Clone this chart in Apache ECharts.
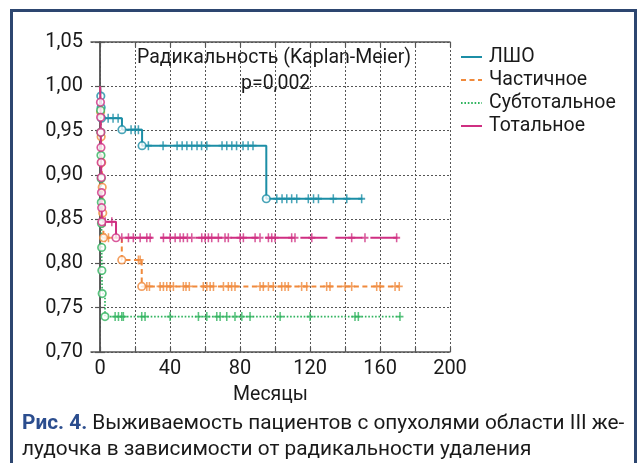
<!DOCTYPE html>
<html>
<head>
<meta charset="utf-8">
<script src="https://cdn.jsdelivr.net/npm/echarts@6/dist/echarts.min.js"></script>
<style>
html,body{margin:0;padding:0;background:#fff;}
#wrap{position:relative;width:641px;height:463px;overflow:hidden;}
#chart{position:absolute;left:0;top:0;width:641px;height:463px;}
#frame{position:absolute;left:10px;top:9px;width:627px;height:480px;box-sizing:border-box;border:3px solid #2d4670;pointer-events:none;}
</style>
</head>
<body>
<div id="wrap"><div id="chart"></div><div id="frame"></div></div>
<script>
// ---- Data (months, survival) ----
const seriesNames = ['ЛШО', 'Частичное', 'Субтотальное', 'Тотальное'];

const lshoTimes   = [0, 0.4, 0.6, 0.8, 12.5, 24, 95, 150];
const lshoSurv    = [1, 0.989, 0.976, 0.964, 0.951, 0.933, 0.873, 0.873];
const lshoCensor  = [4.6, 7.4, 10.3, 17.7, 20, 21.9, 27.6, 36, 44, 46.9, 49.6, 52.4, 55.4, 58, 61, 69.7, 72.4, 75.3, 78, 81.7, 84.6, 87.4, 101, 104, 106.7, 109.5, 112.4, 119, 122, 124.8, 133.3, 141, 149.5];

const partTimes   = [0, 0.3, 0.6, 0.9, 1.2, 1.5, 2, 12.4, 23.8, 171];
const partSurv    = [1, 0.971, 0.943, 0.914, 0.886, 0.857, 0.829, 0.804, 0.774, 0.774];
const partCensor  = [2.9, 4.8, 21.9, 22.9, 26.7, 28.2, 34.3, 36.2, 38.1, 40, 41.9, 47.6, 49.1, 51, 59, 61, 62.9, 64.8, 70.5, 73.3, 75.2, 77.1, 91.4, 93.3, 96.2, 99, 103.8, 105.7, 107.6, 115.2, 118.1, 129.5, 131.4, 140, 143.8, 158.1, 160, 168.6, 171];

const subTimes    = [0, 0.3, 0.4, 0.5, 0.6, 0.7, 0.8, 0.9, 1.0, 1.2, 2.8, 171.5];
const subSurv     = [1, 0.973, 0.948, 0.922, 0.896, 0.869, 0.845, 0.818, 0.792, 0.766, 0.740, 0.740];
const subCensor   = [8.6, 10.5, 12.4, 13.3, 23.8, 25.7, 40, 56.2, 61, 66.7, 68.6, 72.4, 77.1, 81, 85.7, 102.9, 120, 145.7, 147.6, 171.4];

const totTimes    = [0, 0.2, 0.3, 0.4, 0.5, 0.6, 0.7, 0.8, 0.9, 1.0, 9.1, 171];
const totSurv     = [1, 0.982, 0.965, 0.948, 0.931, 0.914, 0.897, 0.880, 0.863, 0.847, 0.829, 0.829];
const totCensor   = [2.9, 6.7, 12.4, 16.2, 19, 22.9, 26.7, 28.6, 36.2, 40, 42.9, 45.7, 47.6, 49.9, 52.4, 58.1, 60, 61.9, 63.8, 67.6, 71.4, 73.3, 80, 81.9, 88.6, 91.4, 96.2, 98.1, 100, 109.5, 111.4, 121, 143.8, 151.4, 169.5];

const xGridValues  = [0, 20, 40, 60, 80, 100, 120, 140, 160, 180, 200];
const xTickLabels  = [0, 40, 80, 120, 160, 200];
const yTickValues  = [0.70, 0.75, 0.80, 0.85, 0.90, 0.95, 1.00, 1.05];

const colors = ['#1c8ea6', '#f08a3c', '#2fb35e', '#cf2f82'];
const lineTypes = ['solid', [5, 3.5], [1.6, 1.8], [27, 8]];

// ---- helpers (derive mark positions from the data) ----
function stepData(t, s) { return t.map((v, i) => [v, s[i]]); }
function survAt(t, s, x) { let v = s[0]; for (let i = 0; i < t.length; i++) { if (t[i] <= x) v = s[i]; } return v; }
function censorData(t, s, c) { return c.map(x => [x, survAt(t, s, x)]); }
function eventData(t, s) { const out = []; for (let i = 1; i < t.length; i++) if (s[i] < s[i - 1]) out.push([t[i], s[i]]); return out; }

const groups = [
  [lshoTimes, lshoSurv, lshoCensor],
  [partTimes, partSurv, partCensor],
  [subTimes, subSurv, subCensor],
  [totTimes, totSurv, totCensor]
];

const plusPath = 'path://M-0.22,-1H0.22V-0.2H1V0.2H0.22V1H-0.22V0.2H-1V-0.2H-0.22Z';
const FONT = 'Roboto, "Noto Sans", sans-serif';

const series = [];
groups.forEach((g, k) => {
  series.push({
    name: seriesNames[k], type: 'line', step: 'end', symbol: 'none',
    data: stepData(g[0], g[1]), z: 2 + k,
    lineStyle: { color: colors[k], width: k === 2 ? 1.7 : 2, type: lineTypes[k] },
    itemStyle: { color: colors[k] }, animation: false
  });
  series.push({
    name: seriesNames[k] + '_c', type: 'scatter', symbol: plusPath, symbolSize: [7, 9],
    data: censorData(g[0], g[1], g[2]), z: 2 + k,
    itemStyle: { color: colors[k] }, animation: false
  });
  series.push({
    name: seriesNames[k] + '_e', type: 'scatter', symbol: 'circle', symbolSize: 7.5,
    data: eventData(g[0], g[1]), z: 3 + k,
    itemStyle: { color: '#fff', borderColor: colors[k], borderWidth: 1.7 }, animation: false
  });
});

const axisLineStyle = { color: '#555', width: 1.5 };
const gridLineStyle = { color: '#555', width: 1, type: [2, 2] };

const option = {
  backgroundColor: '#fff',
  animation: false,
  textStyle: { fontFamily: FONT },
  grid: { left: 91, right: 191, top: 42, bottom: 111 },
  title: [
    { text: 'Радикальность (Kaplan-Meier)', left: 137, top: 48, padding: 0,
      textStyle: { fontSize: 19.5, fontWeight: 'normal', color: '#1a1a1a', fontFamily: FONT } },
    { text: 'p=0,002', left: 241, top: 74, padding: 0,
      textStyle: { fontSize: 19.5, fontWeight: 'normal', color: '#1a1a1a', fontFamily: FONT } },
    { text: '{b|Рис. 4.} Выживаемость пациентов с опухолями области III же-\nлудочка в зависимости от радикальности удаления',
      left: 22, top: 411, padding: 0,
      textStyle: { fontSize: 20.8, fontWeight: 'normal', color: '#1a1a1a', fontFamily: FONT, lineHeight: 26,
        rich: { b: { fontSize: 20.8, fontWeight: 'bold', color: '#2b4d8e', fontFamily: FONT, lineHeight: 26 } } } }
  ],
  legend: {
    data: seriesNames, orient: 'vertical', left: 460, top: 47, padding: 0,
    itemWidth: 21, itemHeight: 12, itemGap: 3,
    itemStyle: { opacity: 0 },
    textStyle: { fontSize: 19.5, color: '#1a1a1a', fontFamily: FONT, padding: [0, 0, 0, 2] },
    selectedMode: false
  },
  xAxis: [
    { type: 'value', min: -5.2, max: 200, position: 'bottom',
      name: 'Месяцы', nameLocation: 'middle', nameGap: 33,
      nameTextStyle: { fontSize: 19.5, color: '#1a1a1a', fontFamily: FONT },
      axisLine: { show: true, lineStyle: axisLineStyle },
      axisTick: { show: true, inside: true, length: 5, customValues: xGridValues, lineStyle: { color: '#555', width: 1.2 } },
      axisLabel: { customValues: xTickLabels, fontSize: 20, color: '#1a1a1a', margin: 7, fontFamily: FONT },
      splitLine: { show: true, lineStyle: gridLineStyle } },
    { type: 'value', min: -5.2, max: 200, position: 'top',
      axisLine: { show: true, lineStyle: axisLineStyle },
      axisTick: { show: true, inside: true, length: 5, customValues: xGridValues, lineStyle: { color: '#555', width: 1.2 } },
      axisLabel: { show: false }, splitLine: { show: false } }
  ],
  yAxis: [
    { type: 'value', min: 0.70, max: 1.05, interval: 0.05, position: 'left',
      axisLine: { show: true, lineStyle: axisLineStyle },
      axisTick: { show: true, inside: true, length: 5, customValues: yTickValues, lineStyle: { color: '#555', width: 1.2 } },
      axisLabel: { customValues: yTickValues, fontSize: 20, color: '#1a1a1a', margin: 8, fontFamily: FONT,
        formatter: v => v.toFixed(2).replace('.', ',') },
      splitLine: { show: true, lineStyle: gridLineStyle } },
    { type: 'value', min: 0.70, max: 1.05, interval: 0.05, position: 'right',
      axisLine: { show: true, lineStyle: axisLineStyle },
      axisTick: { show: true, inside: true, length: 5, customValues: yTickValues, lineStyle: { color: '#555', width: 1.2 } },
      axisLabel: { show: false }, splitLine: { show: false } }
  ],
  series: series
};

const chart = echarts.init(document.getElementById('chart'), null, { renderer: 'canvas' });
chart.setOption(option);
</script>
</body>
</html>
